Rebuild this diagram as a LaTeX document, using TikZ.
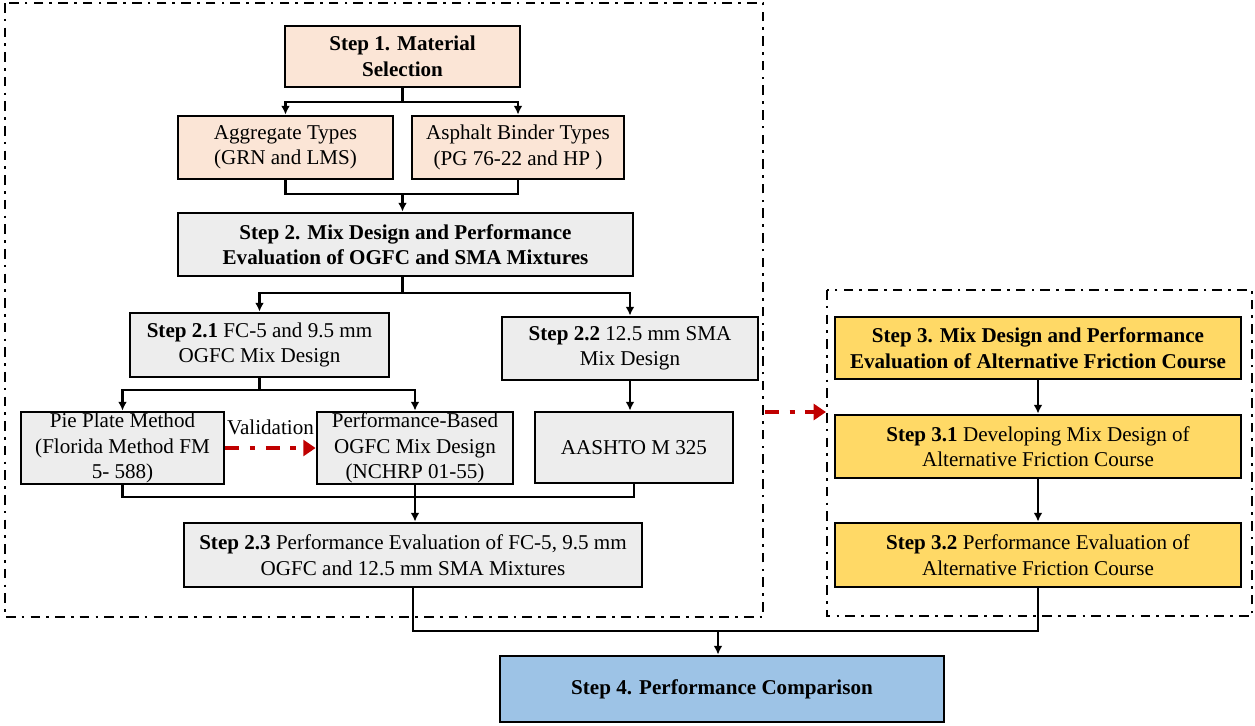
\documentclass[tikz,border=0pt]{standalone}
\usepackage{fontspec}
\setmainfont{Liberation Serif}
\usepackage{tikz}
\usetikzlibrary{arrows.meta,positioning,calc}
\definecolor{stpeach}{HTML}{FBE5D6}
\definecolor{stgray}{HTML}{EDEDED}
\definecolor{styell}{HTML}{FFD966}
\definecolor{stblue}{HTML}{9DC3E6}
\definecolor{valred}{HTML}{C00000}
\tikzset{
  sbox/.style={draw=black, line width=1.6pt, align=center, inner sep=0pt,
    font=\fontsize{12}{14.5}\selectfont},
  pbox/.style={sbox, fill=stpeach},
  gbox/.style={sbox, fill=stgray},
  ybox/.style={sbox, fill=styell},
  bbox/.style={sbox, fill=stblue},
  ln/.style={line width=1.2pt},
  arr/.style={ln, -{Latex[length=5pt,width=5pt]}},
  varr/.style={valred, line width=2.8pt, dash pattern=on 8pt off 6pt on 3pt off 6pt,
    -{Triangle[length=7pt,width=9pt]}},
  frame/.style={line width=1.1pt, dash pattern=on 5.5pt off 3.5pt on 1.5pt off 3.5pt},
  vlab/.style={font=\fontsize{12}{14.5}\selectfont, text=black, inner sep=0pt},
}
\begin{document}
\begin{tikzpicture}[x=0.02cm, y=-0.02cm]
  \useasboundingbox (0,0) rectangle (1255,725);
  % dash-dot frames
  \draw[frame] (5,3) rectangle (763,617);
  \draw[frame] (827,290) rectangle (1252,616);
  % step 1 and 2
  \node[pbox, minimum width=4.7cm, minimum height=1.22cm] (s1) at (402.5,56.5)
    {\textbf{Step 1. Material}\\\textbf{Selection}};
  \node[pbox, minimum width=4.3cm, minimum height=1.26cm] (agg) at (285.5,147.5)
    {Aggregate Types\\(GRN and LMS)};
  \node[pbox, minimum width=4.24cm, minimum height=1.26cm] (bind) at (518,147.5)
    {Asphalt Binder Types\\(PG 76-22 and HP )};
  \node[gbox, minimum width=9.1cm, minimum height=1.26cm] (s2) at (405.5,244.5)
    {\textbf{Step 2. Mix Design and Performance}\\\textbf{Evaluation of OGFC and SMA Mixtures}};
  \node[gbox, minimum width=5.18cm, minimum height=1.28cm] (s21) at (259.5,345)
    {\textbf{Step 2.1} FC-5 and 9.5 mm\\OGFC Mix Design};
  \node[gbox, minimum width=5.12cm, minimum height=1.26cm] (s22) at (630,348.5)
    {\textbf{Step 2.2} 12.5 mm SMA\\Mix Design};
  \node[gbox, minimum width=4.06cm, minimum height=1.44cm] (pie) at (122.5,448)
    {Pie Plate Method\\(Florida Method FM\\5- 588)};
  \node[gbox, minimum width=3.92cm, minimum height=1.44cm] (perf) at (415,448)
    {Performance-Based\\OGFC Mix Design\\(NCHRP 01-55)};
  \node[gbox, minimum width=3.96cm, minimum height=1.42cm] (aash) at (634,447.5)
    {AASHTO M 325};
  \node[gbox, minimum width=9.16cm, minimum height=1.28cm] (s23) at (413,555)
    {\textbf{Step 2.3} Performance Evaluation of FC-5, 9.5 mm\\OGFC and 12.5 mm SMA Mixtures};
  % step 3
  \node[ybox, minimum width=8.12cm, minimum height=1.24cm] (s3) at (1038,348)
    {\textbf{Step 3. Mix Design and Performance}\\\textbf{Evaluation of Alternative Friction Course}};
  \node[ybox, minimum width=8.12cm, minimum height=1.26cm] (s31) at (1038,446.5)
    {\textbf{Step 3.1} Developing Mix Design of\\Alternative Friction Course};
  \node[ybox, minimum width=8.12cm, minimum height=1.28cm] (s32) at (1038,555)
    {\textbf{Step 3.2} Performance Evaluation of\\Alternative Friction Course};
  % step 4
  \node[bbox, minimum width=8.88cm, minimum height=1.32cm] (s4) at (722,689)
    {\textbf{Step 4. Performance Comparison}};

  \draw[ln] (s1.south) -- ++(0,14) coordinate (j1);
  \draw[arr] (j1) -| (agg.north);
  \draw[arr] (j1) -| (bind.north);
  \draw[ln] (agg.south) -- ++(0,14) coordinate (j2) -| (bind.south);
  \draw[arr] (s1.south |- j2) -- (s1.south |- s2.north);
  \draw[ln] (s1.south |- s2.south) -- ++(0,16) coordinate (j3);
  \draw[arr] (j3) -| (s21.north);
  \draw[arr] (j3) -| (s22.north);
  \draw[ln] (s21.south) -- ++(0,12) coordinate (j4);
  \draw[arr] (j4) -| (pie.north);
  \draw[arr] (j4) -| (perf.north);
  \draw[arr] (s22.south) -- (s22.south |- aash.north);
  \draw[ln] (pie.south) -- ++(0,12) coordinate (j5) -| (aash.south);
  \draw[arr] (perf.south) -- (perf.south |- s23.north);
  \draw[arr] (s3) -- (s31);
  \draw[arr] (s31) -- (s32);
  \draw[ln] (s23.south) -- ++(0,43) coordinate (j6) -| (s32.south);
  \draw[arr] (718,0 |- j6) -- (718,0 |- s4.north);
  % validation and link between the frames
  \draw[varr] (pie.east) -- node[vlab, above=6pt] (val) {Validation} (perf.west);
  \coordinate (lf) at (765,412);
  \coordinate (rf) at (826,412);
  \draw[varr] (lf) -- (rf);
\end{tikzpicture}
\end{document}
